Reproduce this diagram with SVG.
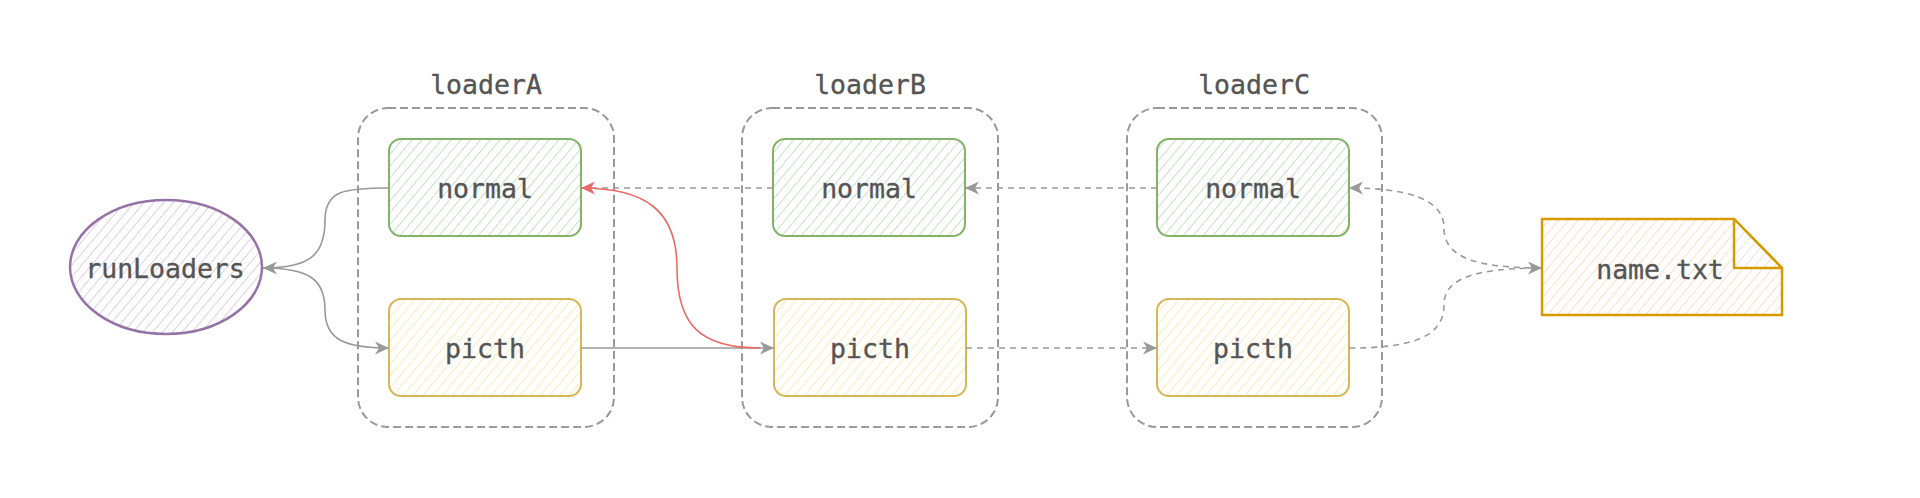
<svg xmlns="http://www.w3.org/2000/svg" width="1920" height="498" viewBox="0 0 1920 498">
  <style>
    .lbl { font-family: "DejaVu Sans Mono", "Liberation Mono", monospace; font-size: 26.5px; fill: #555555; stroke: #555555; stroke-width: 0.35; text-anchor: middle; }
    .cont { fill: none; stroke: #999999; stroke-width: 2; stroke-dasharray: 8 4; }
    .green { fill: url(#hG); stroke: #82b366; stroke-width: 2; }
    .yellow { fill: url(#hY); stroke: #d6b656; stroke-width: 2; }
    .purple { fill: url(#hP); stroke: #9673a6; stroke-width: 2.5; }
    .orange { fill: url(#hO); stroke: #d79b00; stroke-width: 2.5; }
    .conn { fill: none; stroke: #999999; stroke-width: 1.6; }
    .dash { stroke-dasharray: 6 5; }
    .red { fill: none; stroke: #ea6b66; stroke-width: 1.6; }
  </style>
  <defs>
    <pattern id="hG" patternUnits="userSpaceOnUse" width="7.5" height="7.5" patternTransform="rotate(40)">
      <rect width="7.5" height="7.5" fill="#ffffff"/>
      <line x1="0" y1="0" x2="0" y2="7.5" stroke="#c8e2c4" stroke-width="2"/>
    </pattern>
    <pattern id="hY" patternUnits="userSpaceOnUse" width="7.5" height="7.5" patternTransform="rotate(40)">
      <rect width="7.5" height="7.5" fill="#ffffff"/>
      <line x1="0" y1="0" x2="0" y2="7.5" stroke="#fcebb9" stroke-width="2"/>
    </pattern>
    <pattern id="hP" patternUnits="userSpaceOnUse" width="7.5" height="7.5" patternTransform="rotate(40)">
      <rect width="7.5" height="7.5" fill="#ffffff"/>
      <line x1="0" y1="0" x2="0" y2="7.5" stroke="#ddd0e4" stroke-width="2"/>
    </pattern>
    <pattern id="hO" patternUnits="userSpaceOnUse" width="7.5" height="7.5" patternTransform="rotate(40)">
      <rect width="7.5" height="7.5" fill="#ffffff"/>
      <line x1="0" y1="0" x2="0" y2="7.5" stroke="#fde0c4" stroke-width="2"/>
    </pattern>
    <pattern id="hF" patternUnits="userSpaceOnUse" width="7.5" height="7.5" patternTransform="rotate(40)">
      <rect width="7.5" height="7.5" fill="#ffffff"/>
      <line x1="0" y1="0" x2="0" y2="7.5" stroke="#e6e6e6" stroke-width="2"/>
    </pattern>
    <marker id="aG" markerUnits="userSpaceOnUse" markerWidth="15" markerHeight="13" refX="14" refY="6.5" orient="auto">
      <path d="M0,0 L14,6.5 L0,13 L4,6.5 Z" fill="#999999"/>
    </marker>
    <marker id="aR" markerUnits="userSpaceOnUse" markerWidth="15" markerHeight="13" refX="14" refY="6.5" orient="auto">
      <path d="M0,0 L14,6.5 L0,13 L4,6.5 Z" fill="#ea6b66"/>
    </marker>
  </defs>

  <g id="loaderA">
    <rect class="cont" x="358" y="108" width="256" height="319" rx="30"/>
    <text class="lbl" x="486" y="94">loaderA</text>
  </g>
  <g id="loaderB">
    <rect class="cont" x="742" y="108" width="256" height="319" rx="30"/>
    <text class="lbl" x="870" y="94">loaderB</text>
  </g>
  <g id="loaderC">
    <rect class="cont" x="1127" y="108" width="255" height="319" rx="30"/>
    <text class="lbl" x="1254" y="94">loaderC</text>
  </g>

  <g id="runLoaders">
    <ellipse class="purple" cx="166" cy="267" rx="96" ry="67"/>
    <text class="lbl" x="165" y="278">runLoaders</text>
  </g>

  <g id="normalA">
    <rect class="green" x="389" y="139" width="192" height="97" rx="12"/>
    <text class="lbl" x="485" y="198">normal</text>
  </g>
  <g id="picthA">
    <rect class="yellow" x="389" y="299" width="192" height="97" rx="12"/>
    <text class="lbl" x="485" y="358">picth</text>
  </g>
  <g id="normalB">
    <rect class="green" x="773" y="139" width="192" height="97" rx="12"/>
    <text class="lbl" x="869" y="198">normal</text>
  </g>
  <g id="picthB">
    <rect class="yellow" x="774" y="299" width="192" height="97" rx="12"/>
    <text class="lbl" x="870" y="358">picth</text>
  </g>
  <g id="normalC">
    <rect class="green" x="1157" y="139" width="192" height="97" rx="12"/>
    <text class="lbl" x="1253" y="198">normal</text>
  </g>
  <g id="picthC">
    <rect class="yellow" x="1157" y="299" width="192" height="97" rx="12"/>
    <text class="lbl" x="1253" y="358">picth</text>
  </g>

  <g id="nametxt">
    <path class="orange" d="M1542 219 L1734 219 L1782 268 L1782 315 L1542 315 Z"/>
    <path d="M1734 219 L1734 268 L1782 268 Z" fill="url(#hF)" stroke="#d79b00" stroke-width="2.5" stroke-linejoin="round"/>
    <text class="lbl" x="1660" y="279">name.txt</text>
  </g>

  <g id="connectors">
    <path class="conn" d="M389 188 C345 188 325 190 325 220 C325 255 310 268 263 268" marker-end="url(#aG)"/>
    <path class="conn" d="M263 268 C310 268 325 280 325 310 C325 340 345 348 389 348" marker-end="url(#aG)"/>
    <path class="conn dash" d="M773 188 L583 188"/>
    <path class="conn" d="M581 348 L774 348" marker-end="url(#aG)"/>
    <path class="red" d="M760 348 C700 348 677 325 677 268 C677 210 645 188 581 188" marker-end="url(#aR)"/>
    <path class="conn dash" d="M1157 188 L965 188" marker-end="url(#aG)"/>
    <path class="conn dash" d="M966 348 L1157 348" marker-end="url(#aG)"/>
    <path class="conn dash" d="M1542 268 C1470 268 1444 255 1444 228 C1444 200 1410 188 1349 188" marker-end="url(#aG)"/>
    <path class="conn dash" d="M1349 348 C1410 348 1444 338 1444 305 C1444 280 1470 268 1542 268" marker-end="url(#aG)"/>
  </g>
</svg>
